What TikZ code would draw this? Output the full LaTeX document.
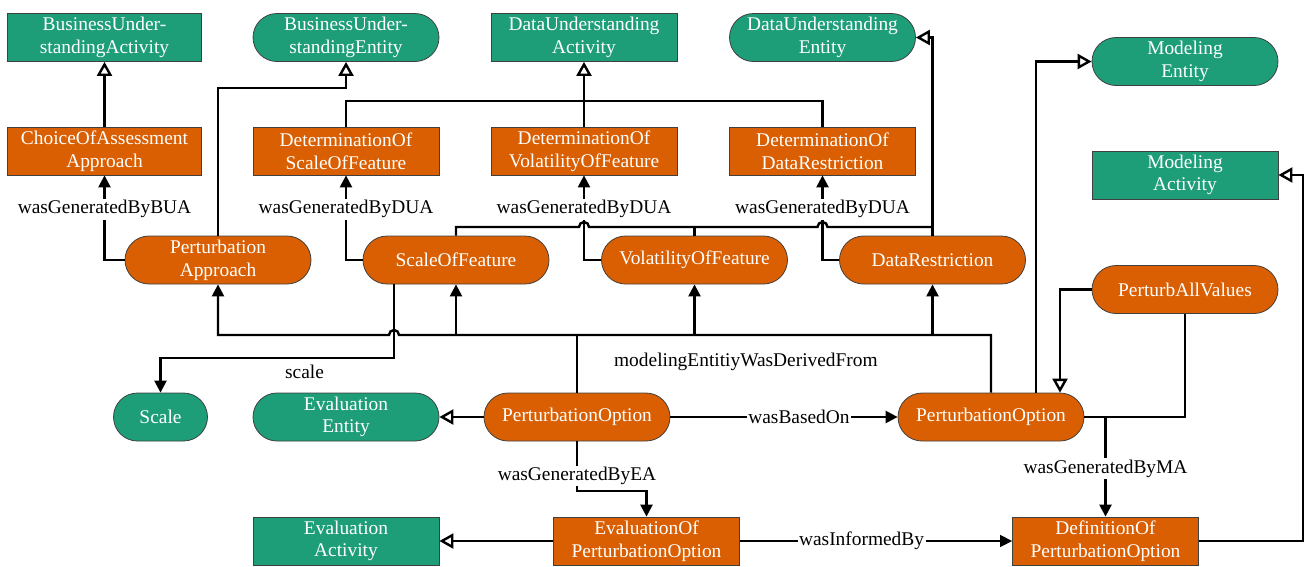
\documentclass[tikz,border=0pt]{standalone}
\usepackage{fontspec}
\setmainfont{Liberation Serif}
\usetikzlibrary{arrows.meta,calc}
\definecolor{entgreen}{HTML}{1D9E78}
\definecolor{actorange}{HTML}{D95F02}
\begin{document}
\begin{tikzpicture}[x=1pt,y=-1pt,
  box/.style={draw=black!75, line width=0.8pt, minimum height=48pt, minimum width=186pt,
              inner sep=0pt, align=center, text=white, font=\fontsize{19.4}{22.7}\selectfont},
  gact/.style={box, fill=entgreen},
  gent/.style={box, fill=entgreen, rounded corners=24pt},
  oact/.style={box, fill=actorange},
  oent/.style={box, fill=actorange, rounded corners=24pt},
  conn/.style={line width=2.4pt},
  farrow/.style={conn, -{Triangle[length=12pt,width=12pt]}},
  oarrow/.style={conn, -{Triangle[open,length=14pt,width=15pt,fill=white]}},
  lbl/.style={fill=white, inner sep=1.5pt, text=black, font=\fontsize{19.4}{22.7}\selectfont},
  note/.style={inner sep=0pt, text=black, font=\fontsize{19.4}{22.7}\selectfont},
]
\useasboundingbox (0,0) rectangle (1306,566);

% top row
\node[gact, minimum width=194pt] (bua) at (104.5,37.5) {BusinessUnder-\\standingActivity};
\node[gent] (bue) at (346,37.5) {BusinessUnder-\\standingEntity};
\node[gact] (dua) at (584,37.5) {DataUnderstanding\\Activity};
\node[gent] (due) at (822.5,37.5) {DataUnderstanding\\Entity};
\node[gent] (me) at (1185,61.5) {Modeling\\Entity};

% activities
\node[oact, minimum width=194pt] (choice) at (104.5,151) {ChoiceOfAssessment\\Approach};
\node[oact] (dsof) at (346,151) {DeterminationOf\\ScaleOfFeature};
\node[oact] (dvof) at (584,151) {DeterminationOf\\VolatilityOfFeature};
\node[oact] (ddr) at (822.5,151) {DeterminationOf\\DataRestriction};
\node[gact] (ma) at (1185,175) {Modeling\\Activity};

% entities
\node[oent] (pa) at (218,260) {Perturbation\\Approach};
\node[oent] (sof) at (456,260) {ScaleOfFeature};
\node[oent] (vof) at (694.5,260) {VolatilityOfFeature};
\node[oent] (dr) at (932.5,260) {DataRestriction};
\node[oent] (pav) at (1185,289.5) {PerturbAllValues};

% lower rows
\node[gent, minimum width=94pt] (scale) at (160.5,417) {Scale};
\node[gent] (ee) at (346,417) {Evaluation\\Entity};
\node[oent] (po1) at (577,417) {PerturbationOption};
\node[oent] (po2) at (991,417) {PerturbationOption};
\node[gact] (ea) at (346,541) {Evaluation\\Activity};
\node[oact] (eopo) at (646.5,541) {EvaluationOf\\PerturbationOption};
\node[oact] (dopo) at (1105.5,541) {DefinitionOf\\PerturbationOption};

% routing levels
\coordinate (yBUE) at (0,88);
\coordinate (yA) at (0,101);
\coordinate (yB) at (0,227);
\coordinate (yC) at (0,335);
\coordinate (yD) at (0,358);
\coordinate (yE) at (0,491);
\coordinate (xG) at (1303,0);
\coordinate (sofout) at ([xshift=-62pt]sof.south);

% business understanding
\draw[oarrow] (choice.north) -- (bua.south);
\draw[farrow] (pa.west) -- (choice.south |- pa.west)
  -- node[lbl, pos=0.6] {wasGeneratedByBUA} (choice.south);
\draw[oarrow] (pa.north) -- (pa.north |- yBUE) -| (bue.south);

% data understanding activities
\draw[farrow] (sof.west) -- (dsof.south |- sof.west)
  -- node[lbl, pos=0.6] {wasGeneratedByDUA} (dsof.south);
\draw[farrow] (vof.west) -- (dvof.south |- vof.west)
  -- node[lbl, pos=0.6] {wasGeneratedByDUA} (dvof.south);
\draw[farrow] (dr.west) -- (ddr.south |- dr.west)
  -- node[lbl, pos=0.6] {wasGeneratedByDUA} (ddr.south);
\draw[oarrow] (dvof.north) -- (dua.south);
\draw[conn] (dsof.north) -- (dsof.north |- yA) -- (ddr.north |- yA) -- (ddr.north);

% data understanding entities
\draw[conn] (sof.north) -- (sof.north |- yB)
  -- ($(dvof.south |- yB)+(-5,0)$) arc[start angle=180, end angle=0, radius=5pt]
  -- ($(ddr.south |- yB)+(-5,0)$) arc[start angle=180, end angle=0, radius=5pt]
  -- (dr.north |- yB);
\draw[conn] (vof.north) -- (vof.north |- yB);
\draw[oarrow] (dr.north) -- (dr.north |- due.east) -- (due.east);

% derived-from bus
\draw[farrow] (po2.north) -- (po2.north |- yC)
  -- node[note, pos=0.414, anchor=base, yshift=-31pt] {modelingEntitiyWasDerivedFrom}
     ($(sofout |- yC)+(5,0)$) arc[start angle=0, end angle=180, radius=5pt]
  -- (pa.south |- yC) -- (pa.south);
\draw[farrow] (sof.south |- yC) -- (sof.south);
\draw[farrow] (vof.south |- yC) -- (vof.south);
\draw[farrow] (dr.south |- yC) -- (dr.south);
\draw[conn] (po1.north) -- (po1.north |- yC);

% scale
\draw[farrow] (sofout) -- (sofout |- yD)
  -- node[note, pos=0.383, anchor=base, yshift=-20pt] {scale} (scale.north |- yD)
  -- (scale.north);

% evaluation
\draw[oarrow] (po1.west) -- (ee.east);
\draw[farrow] (po1.east) -- node[lbl, pos=0.566] {wasBasedOn} (po2.west);
\draw[farrow] (po1.south) -- node[lbl, pos=0.7] {wasGeneratedByEA} (po1.south |- yE)
  -| (eopo.north);
\draw[oarrow] (eopo.west) -- (ea.east);
\draw[line width=1.3pt, -{Triangle[length=12pt,width=12pt]}] (eopo.east)
  -- node[lbl, pos=0.447] {wasInformedBy} (dopo.west);

% modeling
\draw[conn] (pav.south) -- (pav.south |- po2.east) -- (po2.east);
\draw[farrow] (dopo.north |- po2.east)
  -- node[lbl, pos=0.52] {wasGeneratedByMA} (dopo.north);
\draw[oarrow] (pav.west) -| ([xshift=69pt]po2.north);
\draw[oarrow] ([xshift=45pt]po2.north) |- (me.west);
\draw[oarrow] (dopo.east) -- (dopo.east -| xG) -- (xG |- ma.east) -- (ma.east);
\end{tikzpicture}
\end{document}
